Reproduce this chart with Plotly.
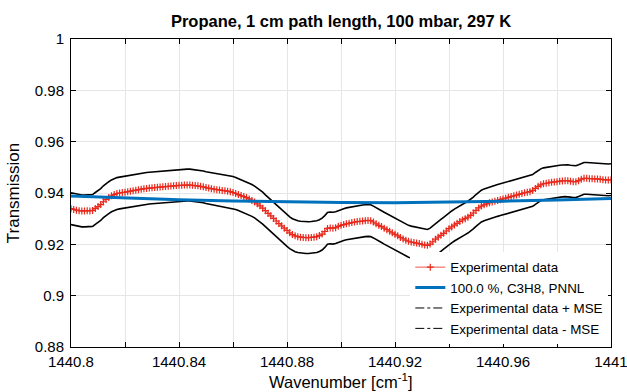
import numpy as np
import plotly.graph_objects as go

# ---- data ----
wn_start = 1440.800
wn_step = 0.001
exp_data = [
    0.9339, 0.9336, 0.9333, 0.9331, 0.9330, 0.9330, 0.9331, 0.9330, 0.9332, 0.9340,
    0.9347, 0.9355, 0.9366, 0.9375, 0.9382, 0.9389, 0.9394, 0.9398, 0.9400, 0.9402,
    0.9403, 0.9405, 0.9407, 0.9409, 0.9411, 0.9413, 0.9415, 0.9417, 0.9418, 0.9419,
    0.9420, 0.9421, 0.9422, 0.9423, 0.9424, 0.9425, 0.9426, 0.9427, 0.9428, 0.9429,
    0.9430, 0.9430, 0.9431, 0.9431, 0.9431, 0.9430, 0.9429, 0.9428, 0.9426, 0.9424,
    0.9421, 0.9419, 0.9417, 0.9415, 0.9413, 0.9412, 0.9410, 0.9409, 0.9407, 0.9405,
    0.9402, 0.9398, 0.9394, 0.9390, 0.9386, 0.9382, 0.9377, 0.9371, 0.9365, 0.9358,
    0.9350, 0.9341, 0.9331, 0.9321, 0.9311, 0.9301, 0.9291, 0.9281, 0.9272, 0.9263,
    0.9254, 0.9245, 0.9238, 0.9233, 0.9230, 0.9228, 0.9227, 0.9226, 0.9226, 0.9227,
    0.9228, 0.9230, 0.9234, 0.9240, 0.9250, 0.9262, 0.9264, 0.9263, 0.9265, 0.9270,
    0.9274, 0.9277, 0.9280, 0.9282, 0.9285, 0.9287, 0.9289, 0.9290, 0.9291, 0.9292,
    0.9293, 0.9292, 0.9287, 0.9280, 0.9274, 0.9269, 0.9263, 0.9257, 0.9251, 0.9245,
    0.9239, 0.9233, 0.9227, 0.9221, 0.9216, 0.9212, 0.9209, 0.9207, 0.9205, 0.9203,
    0.9200, 0.9197, 0.9196, 0.9201, 0.9210, 0.9220, 0.9228, 0.9235, 0.9243, 0.9252,
    0.9261, 0.9268, 0.9275, 0.9282, 0.9289, 0.9295, 0.9300, 0.9306, 0.9313, 0.9322,
    0.9332, 0.9342, 0.9349, 0.9354, 0.9358, 0.9362, 0.9365, 0.9368, 0.9371, 0.9374,
    0.9377, 0.9380, 0.9383, 0.9386, 0.9389, 0.9392, 0.9395, 0.9398, 0.9401, 0.9403,
    0.9405, 0.9410, 0.9418, 0.9426, 0.9432, 0.9436, 0.9438, 0.9440, 0.9442, 0.9443,
    0.9444, 0.9446, 0.9447, 0.9448, 0.9448, 0.9446, 0.9444, 0.9444, 0.9448, 0.9454,
    0.9457, 0.9457, 0.9456, 0.9456, 0.9455, 0.9455, 0.9454, 0.9452, 0.9451, 0.9451,
    0.9452,
]
mse = 0.0062

pnnl_wn = [1440.80, 1440.82, 1440.84, 1440.86, 1440.88, 1440.90,
           1440.92, 1440.94, 1440.96, 1440.98, 1441.00]
pnnl_T = [0.9388, 0.9380, 0.9374, 0.9369, 0.9365, 0.9363,
          0.9362, 0.9364, 0.9368, 0.9373, 0.9379]

x_tickvals = [1440.80, 1440.82, 1440.84, 1440.86, 1440.88, 1440.90,
              1440.92, 1440.94, 1440.96, 1440.98, 1441.00]
x_ticktext = ["1440.8", "", "1440.84", "", "1440.88", "", "1440.92", "",
              "1440.96", "", "1441"]
y_tickvals = [0.88, 0.90, 0.92, 0.94, 0.96, 0.98, 1.00]
y_ticktext = ["0.88", "0.9", "0.92", "0.94", "0.96", "0.98", "1"]

wn = wn_start + wn_step * np.arange(len(exp_data))
exp = np.array(exp_data)
upper = exp + mse
lower = exp - mse

RED = "#e8291c"
BLUE = "#0072BD"

fig = go.Figure()
fig.add_trace(go.Scatter(x=wn, y=upper, mode="lines", line=dict(color="black", width=1.6),
                         showlegend=False, hoverinfo="skip"))
fig.add_trace(go.Scatter(x=wn, y=lower, mode="lines", line=dict(color="black", width=1.6),
                         showlegend=False, hoverinfo="skip"))
fig.add_trace(go.Scatter(x=wn, y=exp, mode="lines+markers", name="Experimental data",
                         line=dict(color=RED, width=0.8),
                         marker=dict(symbol="cross-thin", size=5, line=dict(color=RED, width=1.2))))
fig.add_trace(go.Scatter(x=pnnl_wn, y=pnnl_T, mode="lines", name="100.0 %, C3H8, PNNL",
                         line=dict(color=BLUE, width=3)))
fig.add_trace(go.Scatter(x=[None], y=[None], mode="lines", name="Experimental data + MSE",
                         line=dict(color="black", width=1, dash="dashdot")))
fig.add_trace(go.Scatter(x=[None], y=[None], mode="lines", name="Experimental data - MSE",
                         line=dict(color="black", width=1, dash="dashdot")))

FONT = "Liberation Sans, Arial, Helvetica, sans-serif"
L, R, T, B = 71, 16, 39, 45
plot_h = 392 - T - B
fig.update_layout(
    width=627, height=392,
    margin=dict(l=L, r=R, t=T, b=B),
    paper_bgcolor="white", plot_bgcolor="white",
    font=dict(family=FONT, size=15, color="black"),
    title=dict(text="<b>Propane, 1 cm path length, 100 mbar, 297 K</b>",
               x=(L + 627 - R) / 2 / 627, xanchor="center", y=1 - 21 / 392, yanchor="middle",
               font=dict(size=16.5, family=FONT, color="black")),
    showlegend=True,
    legend=dict(x=0.995, xanchor="right", y=0.01, yanchor="bottom",
                bgcolor="white", borderwidth=0, font=dict(size=13.4, family=FONT),
                tracegroupgap=0, itemwidth=30),
    annotations=[dict(text="Wavenumber [cm<sup>-1</sup>]", xref="paper", yref="paper",
                      x=0.5, xanchor="center", y=-(392 - (392 - B)) / plot_h, yanchor="bottom",
                      showarrow=False, borderpad=0,
                      font=dict(size=16.5, family=FONT, color="black"))],
)
fig.update_xaxes(range=[1440.8, 1441.0], tickvals=x_tickvals, ticktext=x_ticktext,
                 showgrid=True, gridcolor="#e6e6e6", gridwidth=1,
                 ticks="inside", ticklen=5, tickcolor="black", tickwidth=1,
                 showline=True, linecolor="black", linewidth=1, mirror="ticks",
                 zeroline=False, tickfont=dict(size=15), ticklabelstandoff=1,
                 ticklabeloverflow="allow", automargin=False)
fig.update_yaxes(range=[0.88, 1.0], tickvals=y_tickvals, ticktext=y_ticktext,
                 showgrid=True, gridcolor="#e6e6e6", gridwidth=1,
                 ticks="inside", ticklen=5, tickcolor="black", tickwidth=1,
                 showline=True, linecolor="black", linewidth=1, mirror="ticks",
                 zeroline=False, tickfont=dict(size=15), ticklabelstandoff=3,
                 ticklabeloverflow="allow", automargin=False,
                 title=dict(text="Transmission", font=dict(size=17), standoff=10))

fig.write_html("out.html")
